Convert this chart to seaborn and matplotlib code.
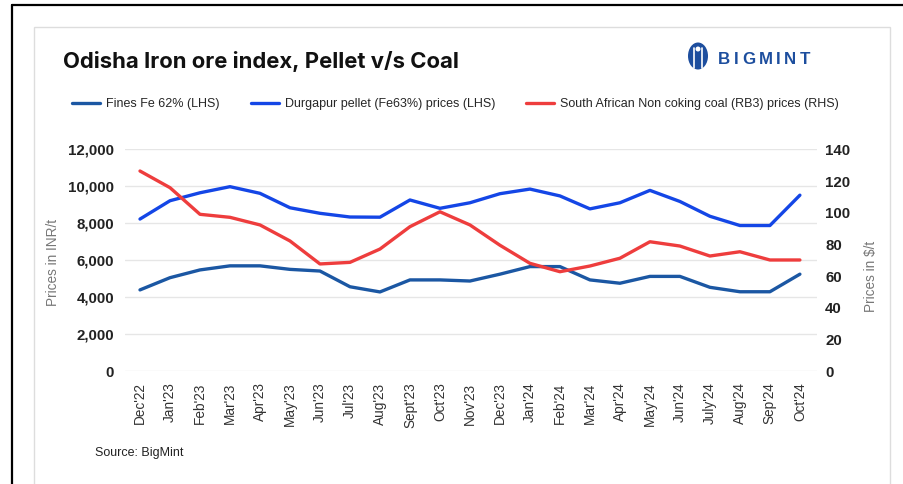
import numpy as np
import pandas as pd
import matplotlib
matplotlib.use("Agg")
import matplotlib.pyplot as plt
import seaborn as sns
from matplotlib.patches import Rectangle, Ellipse
from matplotlib.lines import Line2D

months = ["Dec'22", "Jan'23", "Feb'23", "Mar'23", "Apr'23", "May'23", "Jun'23", "Jul'23",
          "Aug'23", "Sept'23", "Oct'23", "Nov'23", "Dec'23", "Jan'24", "Feb'24", "Mar'24",
          "Apr'24", "May'24", "Jun'24", "July'24", "Aug'24", "Sep'24", "Oct'24"]
fines = [4400, 5060, 5480, 5700, 5700, 5510, 5420, 4570, 4290, 4940, 4940, 4880,
         5250, 5660, 5660, 4940, 4760, 5130, 5130, 4540, 4300, 4300, 5250]
pellet = [8230, 9220, 9650, 9980, 9620, 8840, 8540, 8340, 8330, 9260, 8810, 9110,
          9600, 9850, 9480, 8780, 9110, 9780, 9180, 8380, 7880, 7880, 9520]
coal = [126.3, 115.8, 99.0, 97.1, 92.3, 82.2, 67.7, 68.7, 77.1, 91.2, 100.6, 92.3,
        79.5, 68.1, 62.8, 66.4, 71.3, 81.7, 79.0, 72.7, 75.4, 70.2, 70.2]
left_ticks = [0, 2000, 4000, 6000, 8000, 10000, 12000]
right_ticks = [0, 20, 40, 60, 80, 100, 120, 140]

labels = ["Fines Fe 62% (LHS)", "Durgapur pellet (Fe63%) prices (LHS)",
          "South African Non coking coal (RB3) prices (RHS)"]
colors = ["#1b57a3", "#1446e6", "#ee3d3d"]

df = pd.DataFrame({"pos": np.arange(len(months)), "month": months,
                   "fines": fines, "pellet": pellet, "coal": coal})

sns.set_theme(style="white")
plt.rcParams["font.family"] = ["Liberation Sans", "DejaVu Sans"]

W, H = 904, 484
fig = plt.figure(figsize=(W / 100, H / 100), dpi=100)
fig.patch.set_facecolor("white")

def fx(px):
    return px / W

def fy(py):
    return 1 - py / H

# frames
fig.add_artist(Line2D([fx(12), 1], [fy(5), fy(5)], color="black", lw=1.6, transform=fig.transFigure))
fig.add_artist(Line2D([fx(12), fx(12)], [fy(5), 0], color="black", lw=1.6, transform=fig.transFigure))
fig.add_artist(Rectangle((fx(34), fy(520)), fx(890) - fx(34), fy(27) - fy(520),
                         transform=fig.transFigure, facecolor="white",
                         edgecolor="#dddddd", lw=1.0, zorder=0))

ax_l, ax_r, ax_t, ax_b = 125, 816.7, 149.3, 371.3
ax = fig.add_axes([fx(ax_l), fy(ax_b), fx(ax_r) - fx(ax_l), fy(ax_t) - fy(ax_b)])
ax.set_facecolor("none")
ax2 = ax.twinx()

sns.lineplot(data=df, x="pos", y="fines", ax=ax, color=colors[0], linewidth=2.4, label=labels[0], legend=False)
sns.lineplot(data=df, x="pos", y="pellet", ax=ax, color=colors[1], linewidth=2.4, label=labels[1], legend=False)
sns.lineplot(data=df, x="pos", y="coal", ax=ax2, color=colors[2], linewidth=2.4, label=labels[2], legend=False)

ax.set_xlim(-0.5, len(months) - 1 + 0.56)
ax.set_ylim(0, 12000)
ax2.set_ylim(0, 140)
ax.set_yticks(left_ticks)
ax.set_yticklabels([f"{v:,}" for v in left_ticks], fontsize=10.8, fontweight="bold", color="#222222")
ax2.set_yticks(right_ticks)
ax2.set_yticklabels([str(v) for v in right_ticks], fontsize=10.8, fontweight="bold", color="#222222")
ax.set_xticks(df["pos"])
ax.set_xticklabels(months, rotation=90, fontsize=9.8, color="#333333")
ax.tick_params(axis="x", length=0, pad=8)
ax.tick_params(axis="y", length=0, pad=8)
ax2.tick_params(axis="y", length=0, pad=6)
ax.grid(axis="y", color="#e6e6e6", lw=1.0)
ax.set_axisbelow(True)
for a in (ax, ax2):
    for s in a.spines.values():
        s.set_visible(False)
ax.set_xlabel("")
ax.set_ylabel("Prices in INR/t", fontsize=9.8, color="#777777")
ax.yaxis.set_label_coords((60 - ax_l) / (ax_r - ax_l), (ax_b - 262) / (ax_b - ax_t))
ax2.set_ylabel("Prices in $/t", fontsize=9.8, color="#777777", rotation=90)
ax2.yaxis.set_label_coords((864 - ax_l) / (ax_r - ax_l), (ax_b - 276) / (ax_b - ax_t))

# title
fig.text(fx(63), fy(62), "Odisha Iron ore index, Pellet v/s Coal", fontsize=15.9,
         fontweight="bold", color="#111111", va="center", ha="left",
         family=["Inter", "Liberation Sans", "DejaVu Sans"])

# logo
logo_blue = "#1d4e9e"
fig.add_artist(Ellipse((fx(698), fy(56)), fx(20), 27 / H, transform=fig.transFigure,
                       facecolor=logo_blue, edgecolor="none"))
for xx in (694, 702):
    fig.add_artist(Line2D([fx(xx), fx(xx)], [fy(48), fy(68)], color="white", lw=1.2,
                          transform=fig.transFigure))
fig.add_artist(Ellipse((fx(698), fy(49)), fx(5), 5 / H, transform=fig.transFigure,
                       facecolor="white", edgecolor="none"))
renderer = fig.canvas.get_renderer()
cursor = 717.7
for ch in "BIGMINT":
    t = fig.text(fx(cursor), fy(59), ch, fontsize=12.2, fontweight="bold", color=logo_blue,
                 va="center", ha="left")
    wpx = t.get_window_extent(renderer=renderer).width
    cursor += wpx + 3.6

# legend
handles = [Line2D([], [], color=c, lw=2.4) for c in colors]
fig.legend(handles, labels, loc="center left", bbox_to_anchor=(fx(72), fy(104)),
           ncol=3, frameon=False, fontsize=9.0, handlelength=2.25, handletextpad=0.5,
           columnspacing=2.45, borderpad=0, borderaxespad=0)

fig.text(fx(95), fy(453), "Source: BigMint", fontsize=9, color="#222222", va="center", ha="left")

fig.savefig("out.png", dpi=100)
